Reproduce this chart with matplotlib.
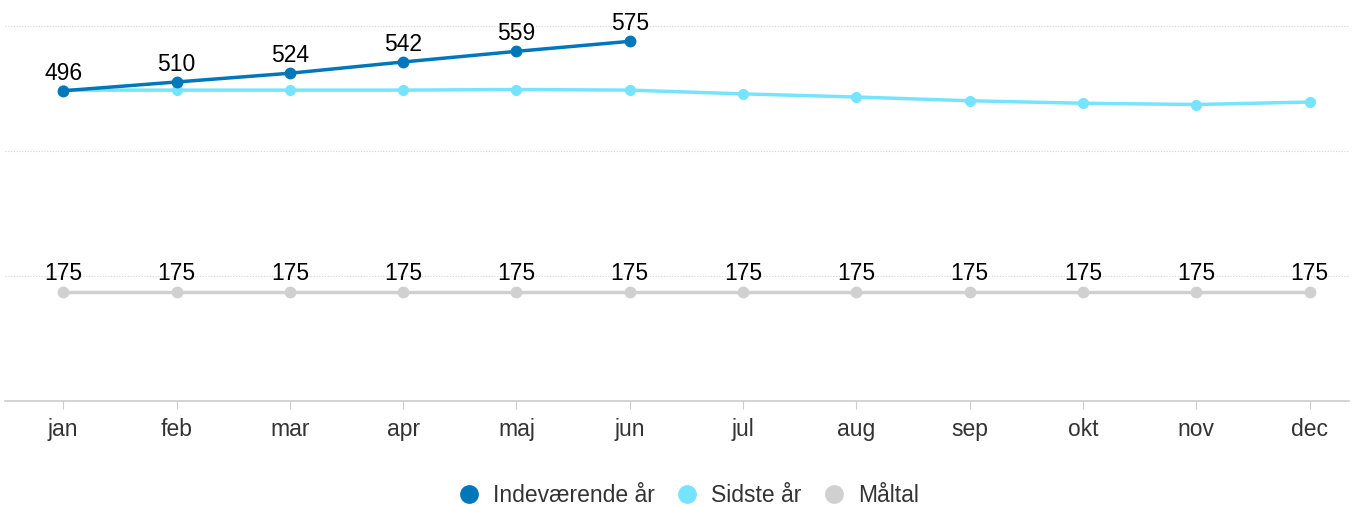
import matplotlib.pyplot as plt

plt.rcParams['font.family'] = ['Liberation Sans', 'DejaVu Sans']

months = ['jan', 'feb', 'mar', 'apr', 'maj', 'jun', 'jul', 'aug', 'sep', 'okt', 'nov', 'dec']
current = [496, 510, 524, 542, 559, 575]
last_year = [497, 497, 497, 497, 498, 497, 491, 486, 480, 476, 474, 478]
target = [175] * 12

c_cur = '#0077bb'
c_last = '#77e4ff'
c_tgt = '#d0d0d0'

fig = plt.figure(figsize=(13.52, 5.07), dpi=100)
ax = fig.add_axes([0.004, 0.209, 0.994, 0.765])

x = list(range(len(months)))
ax.plot(x, target, color=c_tgt, lw=2.5, marker='o', ms=7.5, zorder=2, label='Måltal')
ax.plot(x, last_year, color=c_last, lw=2.5, marker='o', ms=7, zorder=3, label='Sidste år')
ax.plot(x[:len(current)], current, color=c_cur, lw=2.5, marker='o', ms=7.5, zorder=4,
        label='Indeværende år')

for i, v in enumerate(current):
    ax.annotate(str(v), (i, v), xytext=(0, 4.5), textcoords='offset points',
                ha='center', va='bottom', fontsize=16.5, color='black')
for i, v in enumerate(target):
    ax.annotate(str(v), (i, v), xytext=(0, 4.5), textcoords='offset points',
                ha='center', va='bottom', fontsize=16.5, color='black')

ax.set_xlim(-0.51, 11.35)
ax.set_ylim(0, 620)
ax.set_yticks([200, 400, 600])
ax.yaxis.grid(True, color='#d4d4d4', ls=(0, (1, 1.5)), lw=0.8)
ax.set_axisbelow(True)
ax.tick_params(axis='y', left=False, labelleft=False)
ax.set_xticks(x)
ax.set_xticklabels(months, fontsize=16.5, color='#333333')
ax.tick_params(axis='x', color='#cccccc', length=6, pad=6)
for s in ['top', 'right', 'left']:
    ax.spines[s].set_visible(False)
ax.spines['bottom'].set_color('#cccccc')
ax.spines['bottom'].set_linewidth(1.2)

h, l = ax.get_legend_handles_labels()
order = [2, 1, 0]
handles = [plt.Line2D([], [], ls='', marker='o', ms=12.5, color=h[k].get_color()) for k in order]
fig.legend(handles, [l[k] for k in order], loc='center', bbox_to_anchor=(0.509, 0.023),
           ncol=3, frameon=False, fontsize=16.5, handlelength=1.0, handletextpad=0.55,
           columnspacing=0.9, labelcolor='#333333')

fig.savefig('out.png', dpi=100)
